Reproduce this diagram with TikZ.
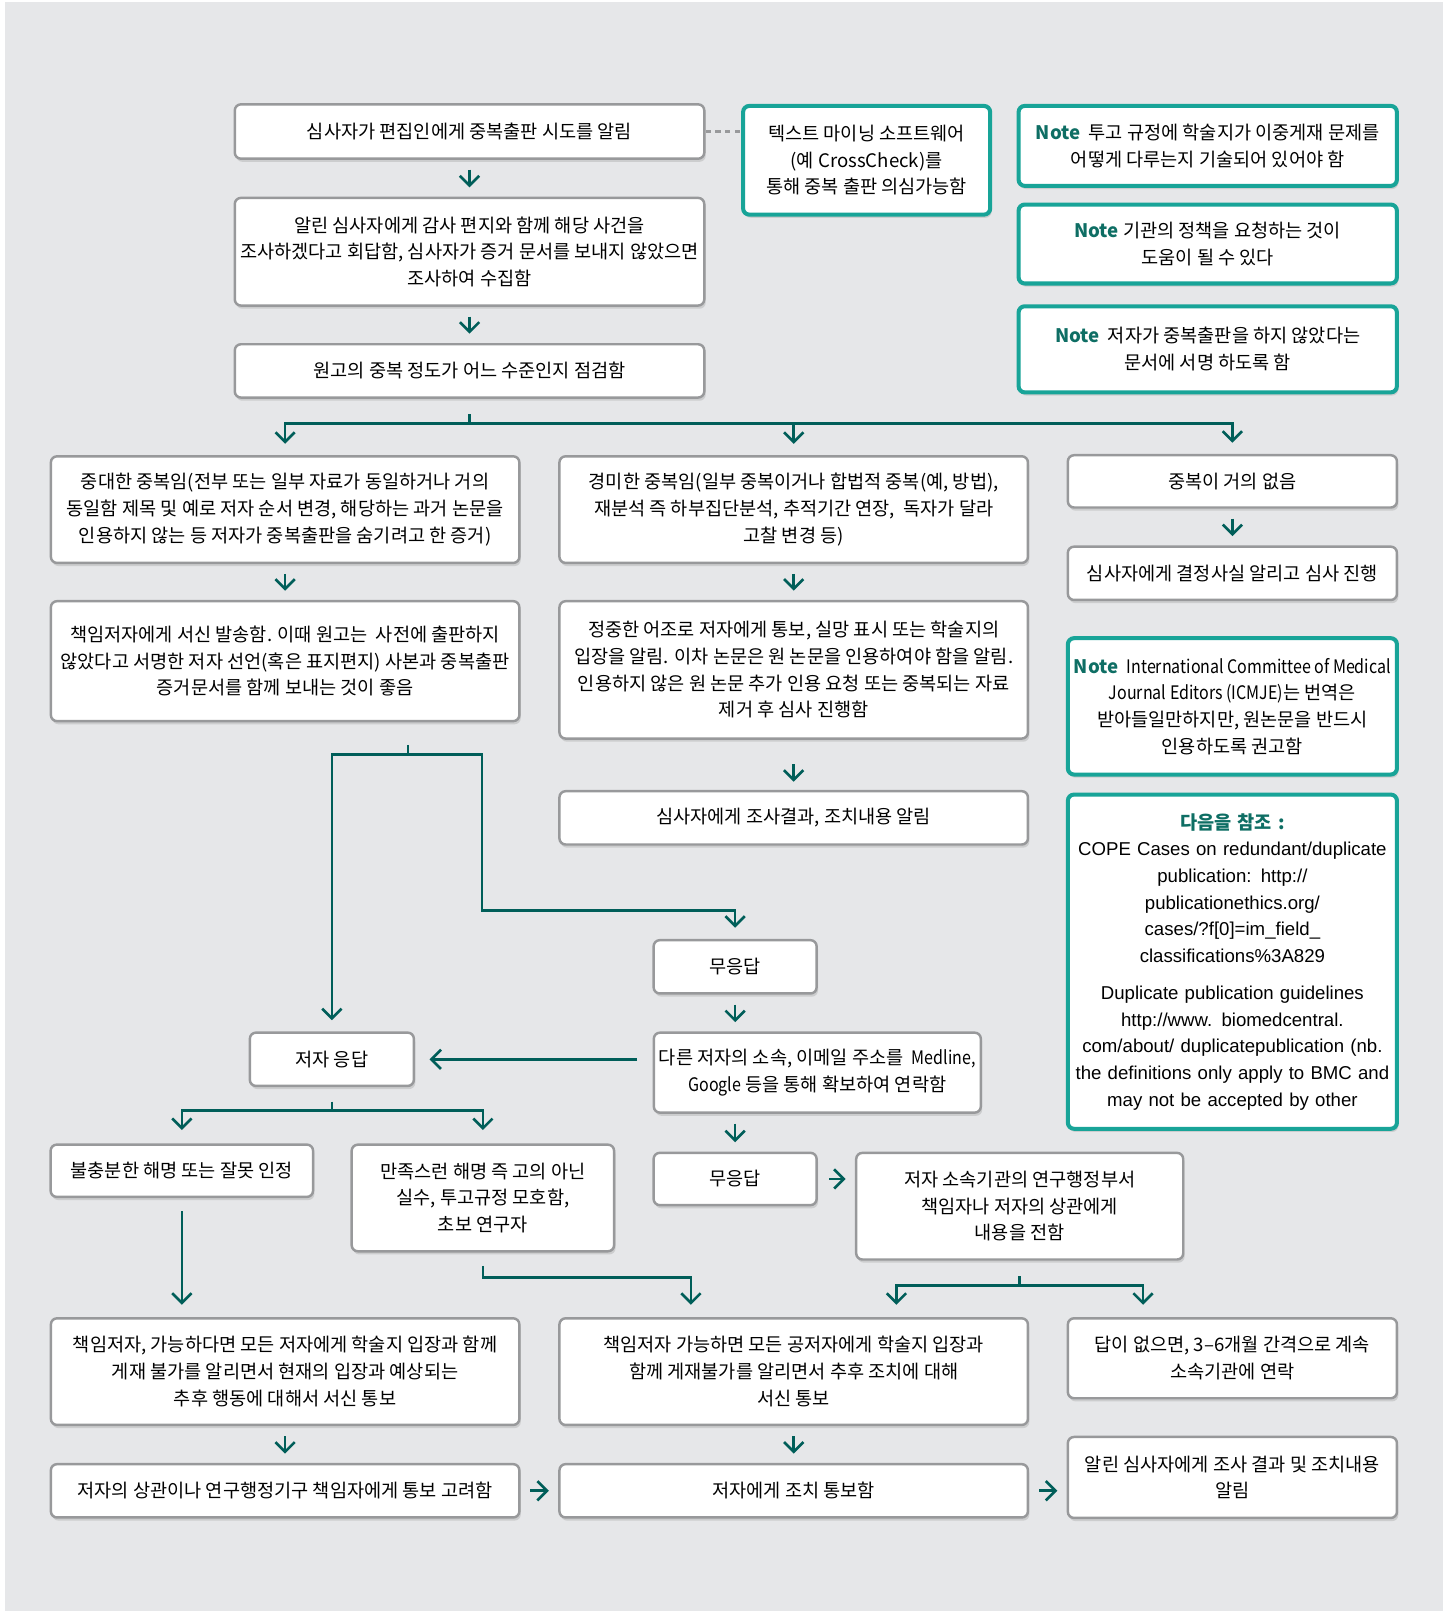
\documentclass[tikz,border=0pt]{standalone}
\usepackage{fontspec}
\setmainfont{Noto Sans CJK KR}
\newfontfamily\latinfont{Liberation Sans}
\newfontfamily\narrowfont[FakeStretch=0.86]{Noto Sans CJK KR}
\usetikzlibrary{arrows.meta,calc,shadows}

\definecolor{bggray}{RGB}{230,231,233}
\definecolor{lineteal}{RGB}{0,94,89}
\definecolor{noteteal}{RGB}{24,164,152}
\definecolor{notetext}{RGB}{14,110,100}
\definecolor{boxgray}{RGB}{152,153,155}

\newcommand{\notelabel}{{\bfseries\color{notetext}Note}}

\tikzset{
  box/.style={draw=boxgray, line width=1.4pt, fill=white, rounded corners=3.5pt,
    inner sep=0pt, align=center, font=\fontsize{10.6}{15.2}\selectfont,
    drop shadow={shadow xshift=0.8pt, shadow yshift=-1.8pt, opacity=0.25}},
  notebox/.style={box, draw=noteteal, line width=2.3pt},
  wh/.style 2 args={minimum width=#1*0.5835pt, minimum height=#2*0.5835pt},
  link/.style={draw=lineteal, line width=1.5pt},
  arr/.style={link, -{Straight Barb[length=5.5pt,width=11pt]}},
  gap/.style={shorten <=5.6pt, shorten >=5.3pt},
}

\begin{document}
\begin{tikzpicture}[x=0.020552cm, y=-0.020552cm]
\useasboundingbox (0,0) rectangle (1412,1568);
\fill[bggray] (5,2) rectangle (1404,1568);

% first check
\node[box, wh={458}{53}] (ask) at (457,128) {심사자가 편집인에게 중복출판 시도를 알림};
\node[box, wh={458}{105}] (reply) at (457,245) {알린 심사자에게 감사 편지와 함께 해당 사건을\\조사하겠다고 회답함, 심사자가 증거 문서를 보내지 않았으면\\조사하여 수집함};
\node[box, wh={458}{52}] (check) at (457,361) {원고의 중복 정도가 어느 수준인지 점검함};
\node[notebox, wh={241}{106}] (mining) at (843.5,156) {텍스트 마이닝 소프트웨어\\(예 CrossCheck)를\\통해 중복 출판 의심가능함};
\node[notebox, wh={369}{78}] (noteA) at (1175.5,142) {\notelabel\ \ 투고 규정에 학술지가 이중게재 문제를\\어떻게 다루는지 기술되어 있어야 함};
\node[notebox, wh={369}{77}] (noteB) at (1175.5,237.5) {\notelabel\ 기관의 정책을 요청하는 것이\\도움이 될 수 있다};
\node[notebox, wh={369}{84}] (noteC) at (1175.5,340) {\notelabel\ \ 저자가 중복출판을 하지 않았다는\\문서에 서명 하도록 함};

% three cases
\node[box, wh={457}{104}] (major) at (277.5,496) {중대한 중복임(전부 또는 일부 자료가 동일하거나 거의\\동일함 제목 및 예로 저자 순서 변경, 해당하는 과거 논문을\\인용하지 않는 등 저자가 중복출판을 숨기려고 한 증거)};
\node[box, wh={457}{104}] (minor) at (772.5,496) {경미한 중복임(일부 중복이거나 합법적 중복(예, 방법),\\재분석 즉 하부집단분석, 추적기간 연장,\ \ 독자가 달라\\고찰 변경 등)};
\node[box, wh={321}{51}] (slight) at (1199.5,468.5) {중복이 거의 없음};
\node[box, wh={321}{52}] (proceed) at (1199.5,558) {심사자에게 결정사실 알리고 심사 진행};
\node[box, wh={457}{117}] (letter) at (277.5,643.5) {책임저자에게 서신 발송함. 이때 원고는\ \ 사전에 출판하지\\않았다고 서명한 저자 선언(혹은 표지편지) 사본과 중복출판\\증거문서를 함께 보내는 것이 좋음};
\node[box, wh={457}{134}] (polite) at (772.5,652) {정중한 어조로 저자에게 통보, 실망 표시 또는 학술지의\\입장을 알림. 이차 논문은 원 논문을 인용하여야 함을 알림.\\인용하지 않은 원 논문 추가 인용 요청 또는 중복되는 자료\\제거 후 심사 진행함};
\node[box, wh={457}{52}] (inform) at (772.5,796) {심사자에게 조사결과, 조치내용 알림};
\node[notebox, wh={321}{133}] (icmje) at (1199.5,687.5) {\notelabel\ \ {\narrowfont International Committee of Medical}\\{\narrowfont Journal Editors (ICMJE)}는 번역은\\받아들일만하지만, 원논문을 반드시\\인용하도록 권고함};
\node[notebox, wh={321}{326}, text width=186pt] (refs) at (1199.5,936) {{\bfseries\color{notetext}다음을 참조 :}\\
  \latinfont\fontsize{10.6}{15.2}\selectfont
  COPE Cases on redundant/duplicate\\publication: http://\\publicationethics.org/\\cases/?f[0]=im\_field\_\\classifications\%3A829\\[5.8pt]
  Duplicate publication guidelines\\http://www. biomedcentral.\\com/about/ duplicatepublication (nb.\\the definitions only apply to BMC and\\may not be accepted by other};

% author response
\node[box, wh={159}{52}] (silent) at (715.5,941) {무응답};
\node[box, wh={319}{78}] (contact) at (795.5,1044) {다른 저자의 소속, 이메일 주소를\ \ {\narrowfont Medline,}\\{\narrowfont Google} 등을 통해 확보하여 연락함};
\node[box, wh={160}{52}] (answer) at (323,1031) {저자 응답};
\node[box, wh={256}{51}] (poor) at (177,1139.5) {불충분한 해명 또는 잘못 인정};
\node[box, wh={256}{104}] (fine) at (470,1166) {만족스런 해명 즉 고의 아닌\\실수, 투고규정 모호함,\\초보 연구자};
\node[box, wh={159}{51}] (silent2) at (715.5,1147.5) {무응답};
\node[box, wh={319}{104}] (inst) at (992.5,1174) {저자 소속기관의 연구행정부서\\책임자나 저자의 상관에게\\내용을 전함};

% outcome
\node[box, wh={457}{104}] (reject) at (277.5,1335) {책임저자, 가능하다면 모든 저자에게 학술지 입장과 함께\\게재 불가를 알리면서 현재의 입장과 예상되는\\추후 행동에 대해서 서신 통보};
\node[box, wh={457}{104}] (reject2) at (772.5,1335) {책임저자 가능하면 모든 공저자에게 학술지 입장과\\함께 게재불가를 알리면서 추후 조치에 대해\\서신 통보};
\node[box, wh={321}{78}] (again) at (1199.5,1322) {답이 없으면, 3–6개월 간격으로 계속\\소속기관에 연락};
\node[box, wh={457}{52}] (boss) at (277.5,1451) {저자의 상관이나 연구행정기구 책임자에게 통보 고려함};
\node[box, wh={457}{52}] (notify) at (772.5,1451) {저자에게 조치 통보함};
\node[box, wh={321}{79}] (final) at (1199.5,1438) {알린 심사자에게 조사 결과 및 조치내용\\알림};

\draw[boxgray, line width=1.3pt, dash pattern=on 3pt off 2.6pt] (ask.east) -- (ask.east -| mining.west);
\draw[arr, gap] (ask.south) -- (reply.north);
\draw[arr, gap] (reply.south) -- (check.north);
\draw[link] (check.south) ++(0,15) -- ++(0,9) coordinate (split);
\foreach \n in {major, minor, slight}
  \draw[arr, shorten >=6.4pt] (split) -| (\n.north);
\draw[arr, gap] (major.south) -- (letter.north);
\draw[arr, gap] (minor.south) -- (polite.north);
\draw[arr, gap] (slight.south) -- (proceed.north);
\draw[arr, shorten <=14pt, shorten >=4.7pt] (polite.south) -- (inform.north);

\draw[link] ($(letter.south)+(119.5,22)$) -- ++(0,9) coordinate (fork);
\draw[arr, shorten >=6.4pt] (fork) -| (answer.north);
\draw[arr, shorten >=6.4pt] (fork) -- ++(72,0) -- ++(0,152) -| (silent.north);
\draw[arr, gap] (silent.south) -- (silent.south |- contact.north);
\draw[arr, shorten <=8.8pt, shorten >=8.2pt] (contact.west |- answer.east) -- (answer.east);
\draw[arr, gap] (silent2.north |- contact.south) -- (silent2.north);
\draw[arr, shorten <=6.4pt, shorten >=5.3pt] (silent2.east) -- (silent2.east -| inst.west);

\draw[link] (answer.south) ++(0,14) -- ++(0,9) coordinate (fork2);
\draw[arr, shorten >=7.6pt] (fork2) -| (poor.north);
\draw[arr, shorten >=7.6pt] (fork2) -| (fine.north);
\draw[arr, shorten <=7.6pt, shorten >=7pt] (poor.south) -- (poor.south |- reject.north);
\draw[arr, shorten >=7pt] (fine.south) ++(0,13) -- ++(0,11) -| ($(reject2.north)+(-100,0)$);
\draw[link] (inst.south) ++(0,15) -- ++(0,9) coordinate (fork3);
\draw[arr, shorten >=7pt] (fork3) -| ($(reject2.north)+(100,0)$);
\draw[arr, shorten >=7pt] (fork3) -| ($(again.north)+(-87,0)$);

\draw[arr, gap] (reject.south) -- (boss.north);
\draw[arr, gap] (reject2.south) -- (notify.north);
\draw[arr, gap] (boss.east) -- (notify.west);
\draw[arr, gap] (notify.east) -- (notify.east -| final.west);
\end{tikzpicture}
\end{document}
